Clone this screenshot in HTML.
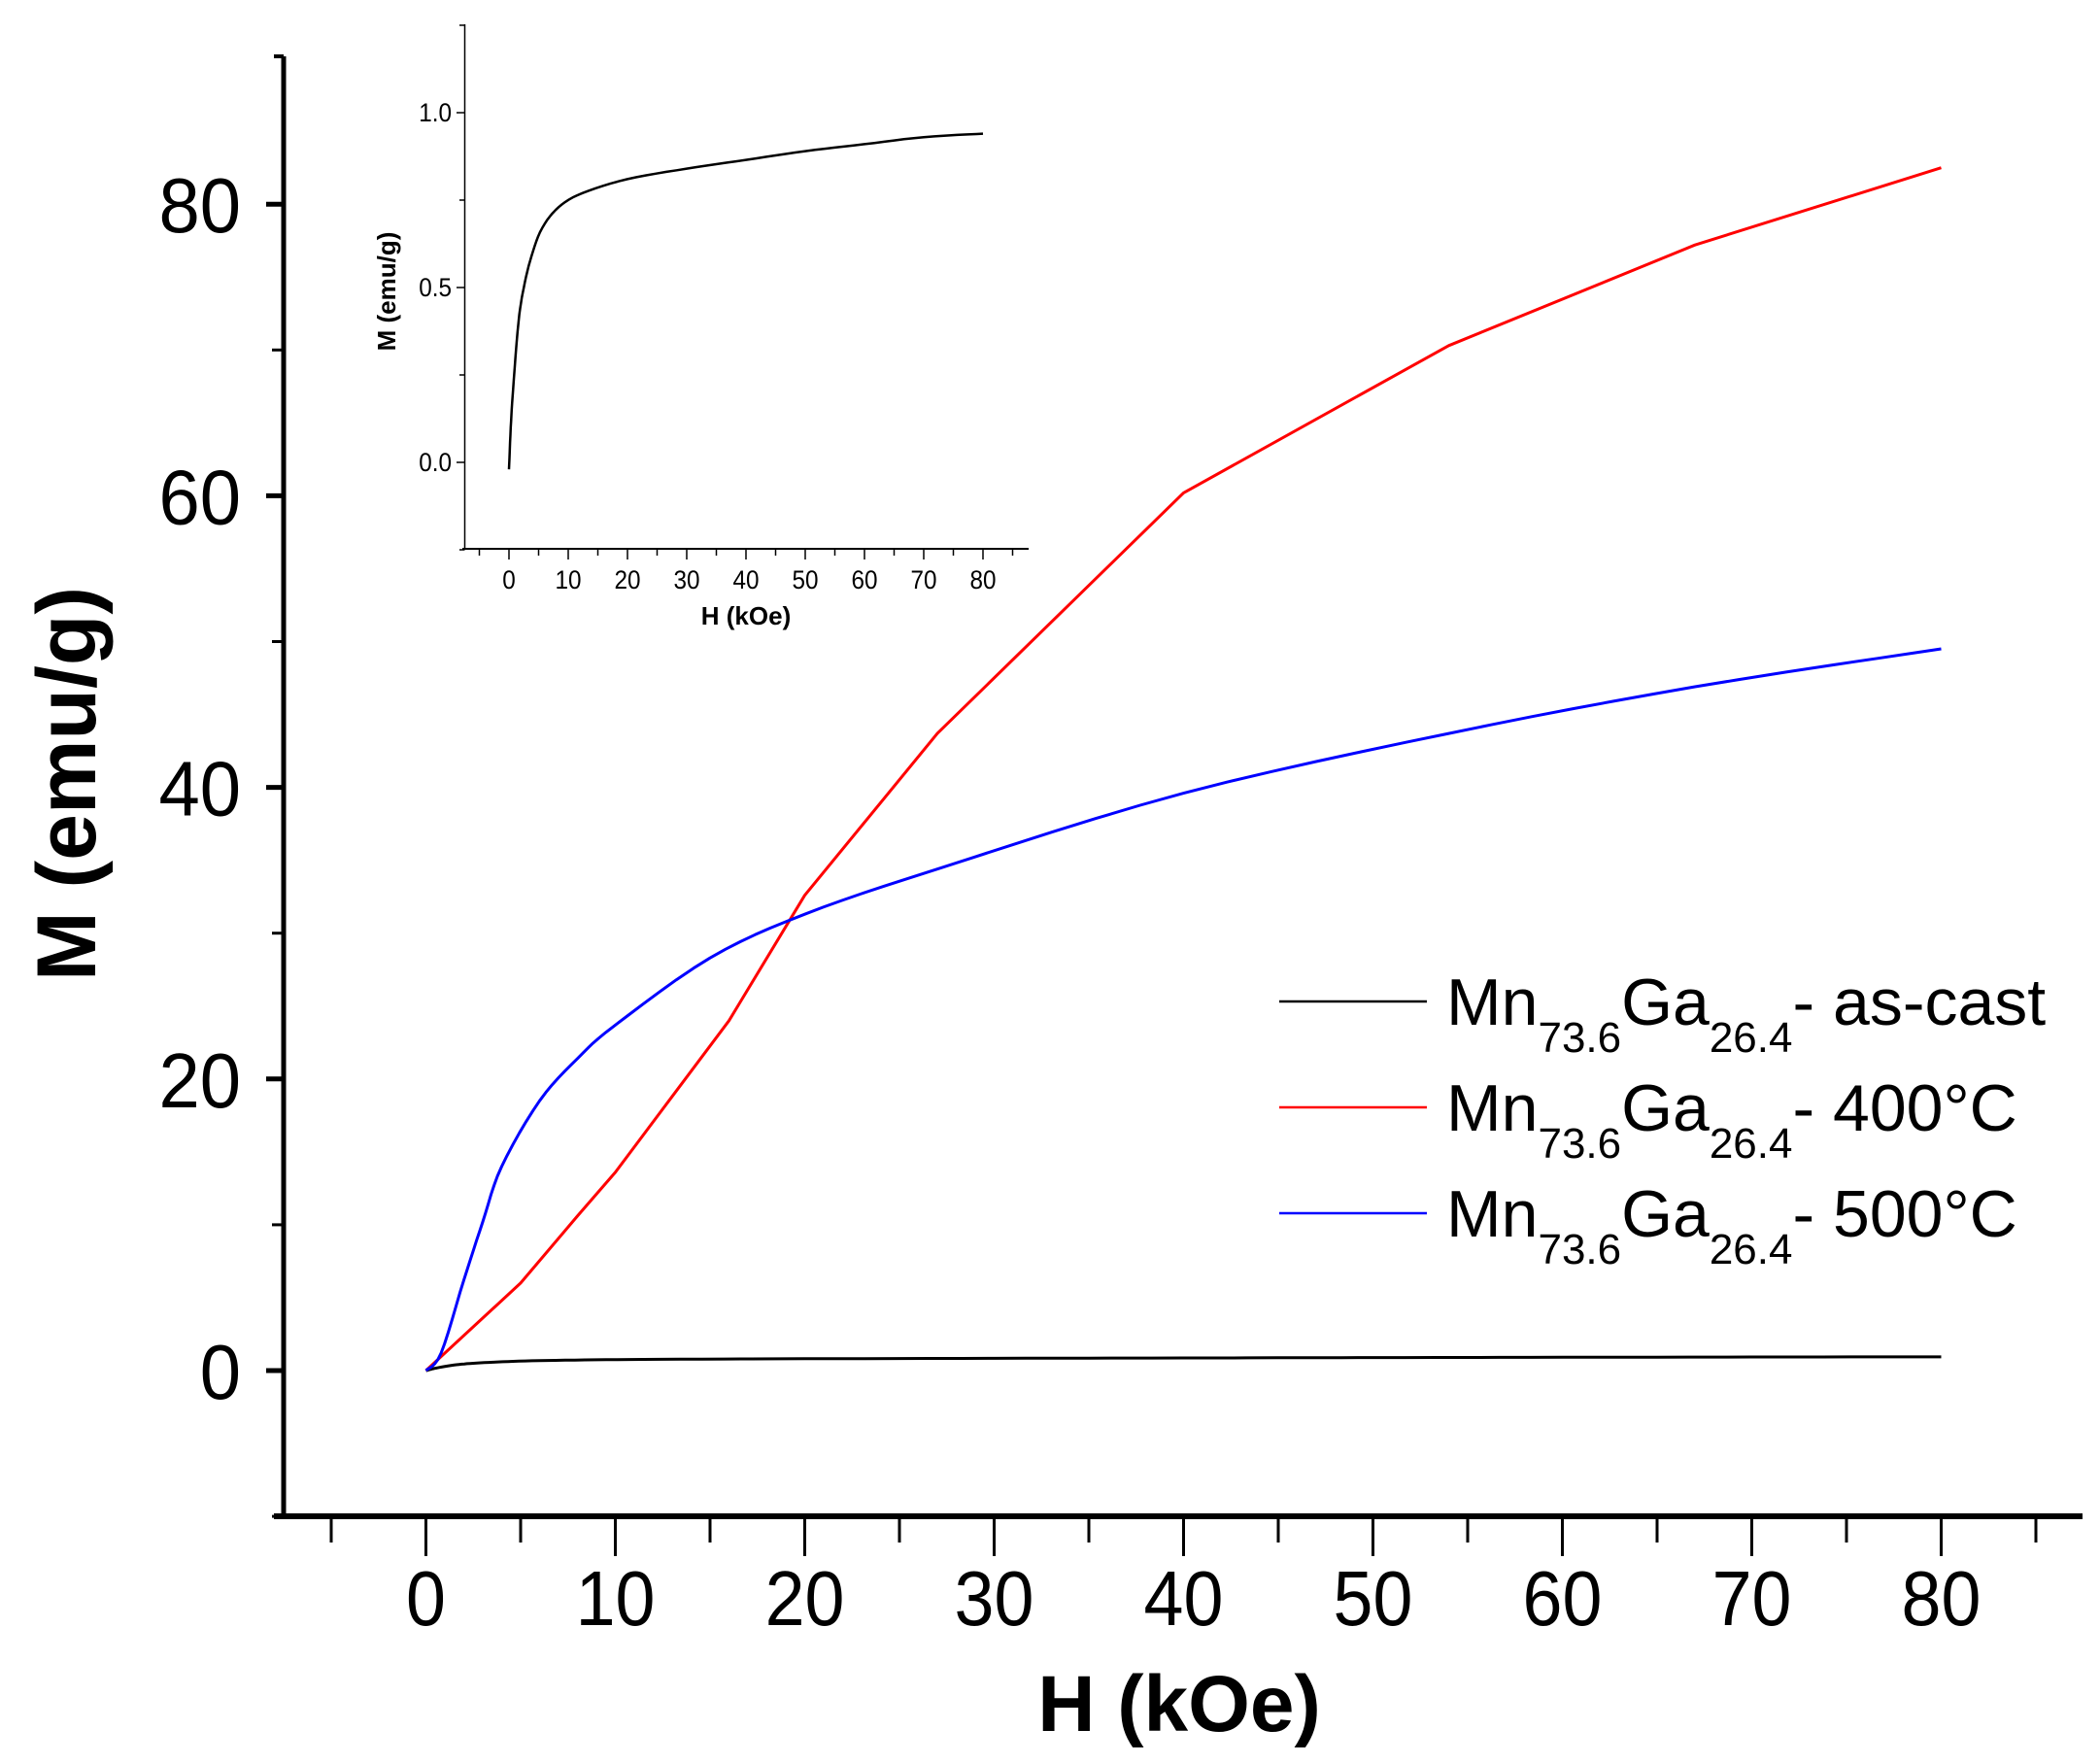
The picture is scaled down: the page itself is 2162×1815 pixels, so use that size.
<!DOCTYPE html>
<html><head><meta charset="utf-8"><style>
html,body{margin:0;padding:0;background:#fff}
svg{display:block}
text{font-family:"Liberation Sans",Arial,sans-serif}
</style></head><body>
<svg id="s" width="2162" height="1815" viewBox="0 0 2162 1815" xmlns="http://www.w3.org/2000/svg">
<g id="g"></g>
<text x="1214" y="1782" font-size="82" font-weight="bold" text-anchor="middle">H (kOe)</text>
<text transform="translate(98,807) rotate(-90)" font-size="86" font-weight="bold" text-anchor="middle">M (emu/g)</text>
<line x1="1317" y1="1031" x2="1469" y2="1031" stroke="#000" stroke-width="2.5"/>
<line x1="1317" y1="1140" x2="1469" y2="1140" stroke="#f00" stroke-width="2.5"/>
<line x1="1317" y1="1249" x2="1469" y2="1249" stroke="#00f" stroke-width="2.5"/>
<text x="1489" y="1055" font-size="68">Mn<tspan font-size="44" dy="28">73.6</tspan><tspan dy="-28">Ga</tspan><tspan font-size="44" dy="28">26.4</tspan><tspan dy="-28">- as-cast</tspan></text>
<text x="1489" y="1164" font-size="68">Mn<tspan font-size="44" dy="28">73.6</tspan><tspan dy="-28">Ga</tspan><tspan font-size="44" dy="28">26.4</tspan><tspan dy="-28">- 400°C</tspan></text>
<text x="1489" y="1273" font-size="68">Mn<tspan font-size="44" dy="28">73.6</tspan><tspan dy="-28">Ga</tspan><tspan font-size="44" dy="28">26.4</tspan><tspan dy="-28">- 500°C</tspan></text>
<text x="768" y="643" font-size="26" font-weight="bold" text-anchor="middle">H (kOe)</text>
<text transform="translate(407,300) rotate(-90)" font-size="26" font-weight="bold" text-anchor="middle">M (emu/g)</text>
</svg>
<script>
var g=document.getElementById('g'),NS='http://www.w3.org/2000/svg';
function el(n,a,t){var e=document.createElementNS(NS,n);for(var k in a)e.setAttribute(k,a[k]);if(t!=null)e.textContent=t;g.appendChild(e);return e;}
var X=function(h){return 438.5+h*19.5},Y=function(m){return 1411-m*15.01};
el('line',{x1:292,y1:58,x2:292,y2:1564,stroke:'#000','stroke-width':5});
el('line',{x1:282,y1:1561,x2:2144,y2:1561,stroke:'#000','stroke-width':6});
el('line',{x1:282,y1:58,x2:292,y2:58,stroke:'#000','stroke-width':4});
for(var m=-10;m<=80;m+=10){var maj=m%20==0;el('line',{x1:maj?274:280,y1:Y(m),x2:292,y2:Y(m),stroke:'#000','stroke-width':maj?5:3});
 if(maj){el('text',{x:248,y:Y(m)+29,'font-size':80,'text-anchor':'end',transform:'translate(248,0) scale(0.95,1) translate(-248,0)'},m);}}
for(var h=-5;h<=85;h+=5){var maj=h%10==0;el('line',{x1:X(h),y1:1561,x2:X(h),y2:maj?1602:1588,stroke:'#000','stroke-width':3});
 if(maj&&h>=0){el('text',{x:X(h),y:1673,'font-size':80,'text-anchor':'middle',transform:'translate('+X(h)+',0) scale(0.92,1) translate('+(-X(h))+',0)'},h);}}
function smooth(pts,n){var out=[];for(var i=0;i<pts.length-1;i++){var p0=pts[Math.max(i-1,0)],p1=pts[i],p2=pts[i+1],p3=pts[Math.min(i+2,pts.length-1)];
 for(var t=0;t<n;t++){var s=t/n,s2=s*s,s3=s2*s;var f=function(a,b,c,d){return 0.5*((2*b)+(-a+c)*s+(2*a-5*b+4*c-d)*s2+(-a+3*b-3*c+d)*s3)};
 out.push([f(p0[0],p1[0],p2[0],p3[0]),f(p0[1],p1[1],p2[1],p3[1])]);}}out.push(pts[pts.length-1]);return out;}
function path(pts,fx,fy,col,w,n){var q=n?smooth(pts,n):pts;el('polyline',{points:q.map(function(p){return fx(p[0]).toFixed(1)+','+fy(p[1]).toFixed(1)}).join(' '),fill:'none',stroke:col,'stroke-width':w,'stroke-linejoin':'round'});}
var blk=[[0,-0.01],[0.3,0.1],[0.7,0.21],[1.6,0.4],[2.5,0.5],[3.8,0.59],[5.6,0.67],[8.4,0.73],[12.4,0.77],[20,0.81],[30,0.84],[40,0.865],[50,0.89],[60,0.91],[70,0.93],[80,0.94]];
path(blk,X,Y,'#000',3,6);
var red=[[0,0],[5,6],[8,10.6],[10,13.6],[13,18.8],[16,24],[20,32.6],[27,43.7],[40,60.2],[54,70.3],[67,77.2],[80,82.5]];
path(red,X,Y,'#f00',3,0);
var blue=[[0,0],[0.8,1.2],[2,6.2],[3,10.2],[4,14],[6,18.5],[8,21.4],[10,23.7],[15,28.3],[20,31.3],[27,34.4],[40,39.6],[54,43.7],[67,46.9],[80,49.5]];
path(blue,X,Y,'#00f',3,6);
var IX=function(h){return 524+h*6.1},IY=function(m){return 476-m*360};
el('line',{x1:478.5,y1:25,x2:478.5,y2:565,stroke:'#000','stroke-width':1.5});
el('line',{x1:476,y1:565,x2:1059,y2:565,stroke:'#000','stroke-width':2});
for(var i=-1;i<=5;i++){var m=i*0.25,maj=i%2==0;el('line',{x1:maj?470:473,y1:IY(m),x2:478.5,y2:IY(m),stroke:'#000','stroke-width':1.5});
 if(maj&&m>=0)el('text',{x:465,y:IY(m)+9,'font-size':27,'text-anchor':'end',transform:'translate(465,0) scale(0.9,1) translate(-465,0)'},m.toFixed(1));}
for(var h=-5;h<=85;h+=5){var maj=h%10==0;el('line',{x1:IX(h),y1:565,x2:IX(h),y2:maj?576:572,stroke:'#000','stroke-width':1.5});
 if(maj&&h>=0)el('text',{x:IX(h),y:606,'font-size':27,'text-anchor':'middle',transform:'translate('+IX(h)+',0) scale(0.9,1) translate('+(-IX(h))+',0)'},h);}
path(blk.map(function(p){return [p[0],p[1]-(p[0]==0?0.01:0)]}),IX,IY,'#000',2.5,6);
</script>
</body></html>
